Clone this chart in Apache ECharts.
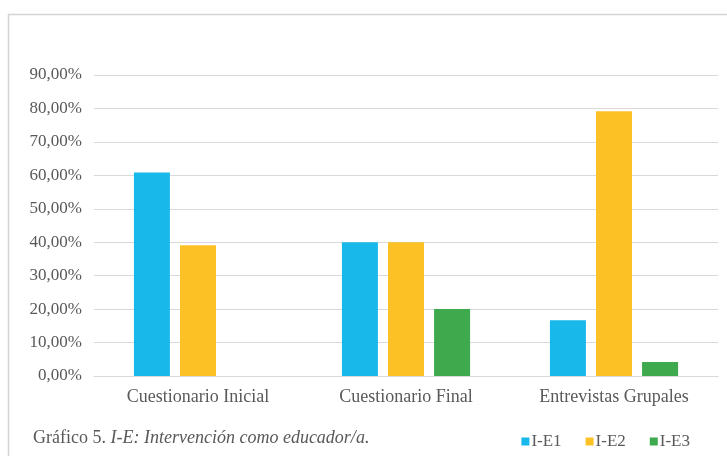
<!DOCTYPE html>
<html>
<head>
<meta charset="utf-8">
<script src="https://cdn.jsdelivr.net/npm/echarts@6/dist/echarts.min.js"></script>
<style>
  html, body { margin: 0; padding: 0; background: #fff; }
  #chart { width: 727px; height: 456px; }
</style>
</head>
<body>
<div id="chart"></div>
<script>
  // datos (en %)
  var categorias = ['Cuestionario Inicial', 'Cuestionario Final', 'Entrevistas Grupales'];
  var serieIE1 = [60.87, 40, 16.67];
  var serieIE2 = [39.13, 40, 79.17];
  var serieIE3 = [0, 20, 4.17];
  var nombres = ['I-E1', 'I-E2', 'I-E3'];
  var colores = ['#19B8EA', '#FCC225', '#3EA94D'];

  var chart = echarts.init(document.getElementById('chart'));

  function fmt(v) {
    return v.toFixed(2).replace('.', ',') + '%';
  }

  var series = [serieIE1, serieIE2, serieIE3].map(function (d, i) {
    return {
      name: nombres[i],
      type: 'bar',
      data: d,
      barWidth: 36,
      barGap: '28%',
      itemStyle: { color: colores[i] }
    };
  });

  chart.setOption({
    animation: false,
    textStyle: { fontFamily: 'Liberation Serif' },
    graphic: [
      {
        type: 'rect',
        shape: { x: 8.5, y: 14.5, width: 740, height: 460 },
        style: { fill: 'none', stroke: '#d4d4d4', lineWidth: 1.5 }
      },
      {
        type: 'text',
        left: 33,
        top: 429,
        style: {
          text: '{n|Gráfico 5. }{i|I-E: Intervención como educador/a.}',
          rich: {
            n: { fontFamily: 'Liberation Serif', fontSize: 18, fill: '#595959' },
            i: { fontFamily: 'Liberation Serif', fontSize: 18, fontStyle: 'italic', fill: '#595959' }
          }
        }
      }
    ],
    legend: {
      data: nombres,
      right: 32,
      top: 428,
      itemWidth: 8,
      itemHeight: 8,
      itemGap: 24,
      icon: 'rect',
      textStyle: { fontFamily: 'Liberation Serif', fontSize: 17, color: '#595959', padding: [0, 0, 0, -3] }
    },
    grid: { left: 94, right: 9, top: 75, bottom: 80 },
    xAxis: {
      type: 'category',
      data: categorias,
      axisLine: { lineStyle: { color: '#d9d9d9', width: 1 } },
      axisTick: { show: false },
      axisLabel: { fontFamily: 'Liberation Serif', fontSize: 18, color: '#595959', margin: 12 }
    },
    yAxis: {
      type: 'value',
      min: 0,
      max: 90,
      interval: 10,
      axisLine: { show: false },
      axisTick: { show: false },
      splitLine: { lineStyle: { color: '#d9d9d9', width: 1 } },
      axisLabel: {
        fontFamily: 'Liberation Serif',
        fontSize: 17,
        color: '#595959',
        margin: 12,
        formatter: fmt
      }
    },
    series: series
  });
</script>
</body>
</html>
